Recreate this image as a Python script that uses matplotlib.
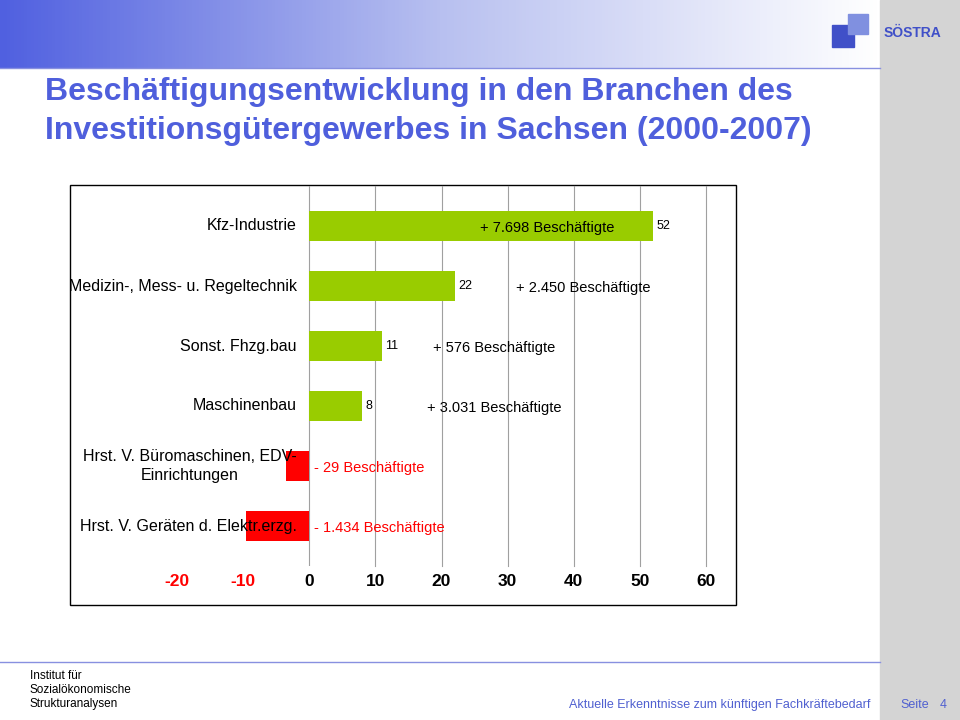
import matplotlib
matplotlib.use("Agg")
import matplotlib.pyplot as plt
import numpy as np
from matplotlib.patches import Rectangle
from matplotlib.colors import LinearSegmentedColormap

categories = ["Kfz-Industrie", "Medizin-, Mess- u. Regeltechnik", "Sonst. Fhzg.bau",
              "Maschinenbau", "Hrst. V. Büromaschinen, EDV-\nEinrichtungen",
              "Hrst. V. Geräten d. Elektr.erzg."]
values = [52, 22, 11, 8, -3.5, -9.5]
value_labels = ["52", "22", "11", "8", "", ""]
notes = ["+ 7.698 Beschäftigte", "+ 2.450 Beschäftigte", "+ 576 Beschäftigte",
         "+ 3.031 Beschäftigte", "- 29 Beschäftigte", "- 1.434 Beschäftigte"]
note_x = [36, 41.5, 28, 28, 0.7, 0.7]
xticks = [-20, -10, 0, 10, 20, 30, 40, 50, 60]

plt.rcParams["font.family"] = "Liberation Sans"
W, H = 960, 720
fig = plt.figure(figsize=(9.6, 7.2), dpi=100)

def fx(x): return x / W
def fy(y): return 1 - y / H

bg = fig.add_axes([0, 0, 1, 1], zorder=0)
bg.set_xlim(0, W); bg.set_ylim(H, 0); bg.axis("off")
grad = np.linspace(0, 1, 256)[None, :]
cm = LinearSegmentedColormap.from_list("g", ["#5060e0", "#b8c0f0", "#ffffff"])
bg.imshow(grad, extent=[0, 880, 68, 0], aspect="auto", cmap=cm)
bg.add_patch(Rectangle((880, 0), 80, 720, color="#d4d4d4"))
bg.plot([0, 880], [68, 68], color="#8890e0", lw=1)
bg.plot([0, 880], [662, 662], color="#8890e0", lw=1)
bg.add_patch(Rectangle((70, 185), 666, 420, fill=False, ec="black", lw=1))
bg.add_patch(Rectangle((832, 25), 22, 22, color="#4050c8"))
bg.add_patch(Rectangle((848, 14), 20, 20, color="#8090e0"))
bg.text(884, 33, "SÖSTRA", color="#4050c8", fontsize=10, fontweight="bold", va="center")
bg.text(45, 92, "Beschäftigungsentwicklung in den Branchen des", color="#4f5fdc",
        fontsize=23, fontweight="bold", va="center")
bg.text(45, 131, "Investitionsgütergewerbes in Sachsen (2000-2007)", color="#4f5fdc",
        fontsize=23, fontweight="bold", va="center")
bg.text(30, 690, "Institut für\nSozialökonomische\nStrukturanalysen", fontsize=8.5,
        va="center", linespacing=1.2)
bg.text(870, 705, "Aktuelle Erkenntnisse zum künftigen Fachkräftebedarf", fontsize=9,
        color="#5060d0", ha="right", va="center")
bg.text(900, 705, "Seite", fontsize=9, color="#5060d0", va="center")
bg.text(940, 705, "4", fontsize=9, color="#5060d0", va="center")

# axes spans y 186..566 px -> ylim chosen so rows are centred at 226 + 60*i
ax = fig.add_axes([fx(177), fy(566), fx(706) - fx(177), (566 - 186) / H], zorder=1)
ax.set_facecolor("none")
ax.set_xlim(-20, 60); ax.set_ylim((566 - 226) / 60, (186 - 226) / 60)
for g in [10, 20, 30, 40, 50, 60]:
    ax.axvline(g, color="#a0a0a0", lw=0.8, zorder=0, clip_on=False)
ax.axvline(0, color="#a0a0a0", lw=0.8, zorder=0)
y = np.arange(len(values))
cols = ["#99cc00" if v > 0 else "#ff0000" for v in values]
ax.barh(y, values, height=0.5, color=cols, zorder=2)
for i, (v, l) in enumerate(zip(values, value_labels)):
    if l:
        ax.text(v + 0.5, i, l, fontsize=9, va="center")
for i, (n, x) in enumerate(zip(notes, note_x)):
    ax.text(x, i + 0.03, n, fontsize=10.5, va="center",
            ha="left" if values[i] < 0 else "center",
            color="#ff0000" if values[i] < 0 else "black", zorder=3)
ax.axis("off")
for t in xticks:
    ax.text(t, (582 - 226) / 60, str(t), fontsize=12.5, fontweight="bold", ha="center",
            va="center", color="#ff0000" if t < 0 else "black")

ov = fig.add_axes([0, 0, 1, 1], zorder=5)
ov.set_xlim(0, W); ov.set_ylim(H, 0); ov.axis("off"); ov.set_facecolor("none")
clip = Rectangle((70, 185), 666, 420, transform=ov.transData)
for i, c in enumerate(categories):
    t = ov.text(297, 226 + 60 * i, c, fontsize=11.5, ha="right", va="center",
                multialignment="center", linespacing=1.3)
    t.set_clip_path(clip)

fig.savefig("out.png", dpi=100)
